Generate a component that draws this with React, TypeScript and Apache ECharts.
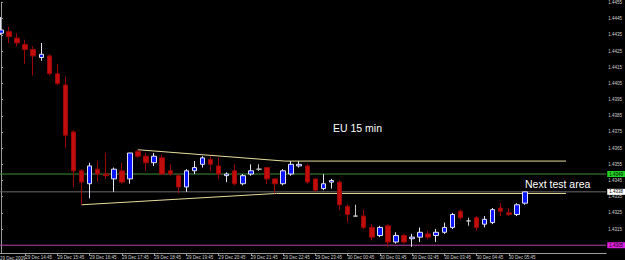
import React, { useEffect, useRef } from "react";
import * as echarts from "echarts";

// EURUSD 15-minute bars, 29 Dec 2009 14:00 onward: [open, close, low, high]
const candles: number[][] = [
  [1.4436, 1.4438, 1.4435, 1.4446],
  [1.4437, 1.4434, 1.443, 1.444],
  [1.4433, 1.443, 1.4428, 1.4436],
  [1.4429, 1.4426, 1.4417, 1.4432],
  [1.4426, 1.4422, 1.441, 1.4428],
  [1.4421, 1.4423, 1.4419, 1.443],
  [1.4422, 1.4411, 1.441, 1.4423],
  [1.4411, 1.4405, 1.4404, 1.4417],
  [1.4404, 1.4373, 1.4365, 1.4409],
  [1.4375, 1.4351, 1.4341, 1.4376],
  [1.4351, 1.4344, 1.433, 1.4352],
  [1.4343, 1.4354, 1.4334, 1.4356],
  [1.4352, 1.4349, 1.4344, 1.4357],
  [1.4349, 1.4348, 1.4346, 1.4362],
  [1.4346, 1.4352, 1.4338, 1.4353],
  [1.4351, 1.4344, 1.4343, 1.4356],
  [1.4346, 1.4362, 1.4343, 1.4362],
  [1.4363, 1.436, 1.4359, 1.4364],
  [1.436, 1.4356, 1.4351, 1.4362],
  [1.4356, 1.436, 1.4354, 1.4362],
  [1.4359, 1.4349, 1.4349, 1.4361],
  [1.4351, 1.4349, 1.4348, 1.4355],
  [1.4348, 1.4341, 1.4337, 1.4349],
  [1.4341, 1.4351, 1.4338, 1.4352],
  [1.4351, 1.4353, 1.4349, 1.4357],
  [1.4355, 1.4359, 1.4353, 1.436],
  [1.4358, 1.4355, 1.4351, 1.436],
  [1.4354, 1.4349, 1.4346, 1.4359],
  [1.4348, 1.4349, 1.4344, 1.435],
  [1.4351, 1.4343, 1.4342, 1.4355],
  [1.4343, 1.4348, 1.4342, 1.4349],
  [1.4349, 1.4351, 1.4348, 1.4355],
  [1.4352, 1.4352, 1.4351, 1.4355],
  [1.4353, 1.4346, 1.4343, 1.4353],
  [1.4346, 1.4343, 1.4337, 1.4346],
  [1.4343, 1.4351, 1.4342, 1.4352],
  [1.4349, 1.4355, 1.4348, 1.4357],
  [1.4354, 1.4355, 1.4353, 1.4357],
  [1.4354, 1.4344, 1.4343, 1.4355],
  [1.4346, 1.4339, 1.4338, 1.4346],
  [1.434, 1.4343, 1.4339, 1.4349],
  [1.4344, 1.4345, 1.434, 1.4346],
  [1.4344, 1.433, 1.4327, 1.4345],
  [1.4329, 1.4324, 1.4319, 1.433],
  [1.4323, 1.4323, 1.4323, 1.433],
  [1.4323, 1.4316, 1.4315, 1.4327],
  [1.4316, 1.431, 1.4308, 1.4318],
  [1.4311, 1.4316, 1.431, 1.4317],
  [1.4317, 1.4307, 1.4304, 1.4318],
  [1.4307, 1.4311, 1.4306, 1.4313],
  [1.4311, 1.4307, 1.4306, 1.4312],
  [1.4309, 1.431, 1.4304, 1.4312],
  [1.431, 1.4313, 1.4307, 1.4316],
  [1.4312, 1.431, 1.4309, 1.4314],
  [1.4311, 1.4313, 1.4307, 1.4315],
  [1.4313, 1.4316, 1.4312, 1.4319],
  [1.4316, 1.4324, 1.4315, 1.4325],
  [1.4326, 1.4322, 1.4321, 1.4327],
  [1.432, 1.432, 1.4317, 1.4322],
  [1.4322, 1.4316, 1.4314, 1.4323],
  [1.4318, 1.4321, 1.4316, 1.4323],
  [1.4319, 1.4327, 1.4318, 1.4328],
  [1.4328, 1.4326, 1.4323, 1.4331],
  [1.4325, 1.4324, 1.4323, 1.4328],
  [1.4324, 1.433, 1.4323, 1.4331],
  [1.4331, 1.4338, 1.433, 1.4338],
];

const firstDateLabel = "29 Dec 2009";
const timeLabels = [
  "29 Dec 14:45", "29 Dec 15:45", "29 Dec 16:45", "29 Dec 17:45",
  "29 Dec 18:45", "29 Dec 19:45", "29 Dec 20:45", "29 Dec 21:45",
  "29 Dec 22:45", "29 Dec 23:45", "30 Dec 00:45", "30 Dec 01:45",
  "30 Dec 02:45", "30 Dec 03:45", "30 Dec 04:45", "30 Dec 05:45",
];
const firstLabelBar = 3;
const barsPerLabel = 4;
const labelBars = timeLabels.map((_, i) => firstLabelBar + i * barsPerLabel);

const priceTicks = [
  1.4455, 1.4445, 1.4435, 1.4425, 1.4415, 1.4405, 1.4395, 1.4385,
  1.4375, 1.4365, 1.4355, 1.4345, 1.4335, 1.4325, 1.4315,
];

const greenLevel = 1.4349;
const bidPrice = 1.4338;
const magentaLevel = 1.4305;

// trend lines: [bar index, price]
const upperTrend = [[17, 1.4364], [35.2, 1.4357], [70.1, 1.4357]];
const lowerTrend = [[10, 1.433], [34.2, 1.4337], [70.1, 1.4337]];

const titleText = "EU 15 min";
const noteText = "Next test area";

const FONT = "'Liberation Sans', Arial, sans-serif";
const X_MIN = -0.124;
const X_MAX = 75.09;

export default function App() {
  const ref = useRef<HTMLDivElement>(null);

  useEffect(() => {
    document.body.style.margin = "0";
    const chart = echarts.init(ref.current!, null, { renderer: "svg" });

    const levelSeries = (value: number, line: string, box: string, text: string) => ({
      type: "line",
      data: [[X_MIN, value], [X_MAX, value]],
      symbol: "none",
      silent: true,
      clip: false,
      z: 1,
      lineStyle: { color: line, width: 1 },
      endLabel: {
        show: true,
        distance: 1,
        formatter: () => value.toFixed(4),
        backgroundColor: box,
        color: text,
        fontSize: 4.5,
        fontFamily: FONT,
        padding: [1, 2, 0, 2],
      },
    });

    const option: any = {
      animation: false,
      backgroundColor: "#000000",
      grid: { left: 0, right: 18, top: 0, bottom: 7 },
      xAxis: {
        type: "value",
        min: X_MIN,
        max: X_MAX,
        axisLine: { show: true, onZero: false, lineStyle: { color: "#9a9a9a", width: 1 } },
        axisTick: { show: true, length: 3, customValues: labelBars, lineStyle: { color: "#9a9a9a" } },
        axisLabel: {
          customValues: labelBars,
          formatter: (v: number) => timeLabels[Math.round((v - firstLabelBar) / barsPerLabel)] ?? "",
          align: "left",
          color: "#cfcfcf",
          fontSize: 4.5,
          fontFamily: FONT,
          margin: 2,
        },
        splitLine: { show: false },
      },
      yAxis: {
        type: "value",
        position: "right",
        min: 1.43002,
        max: 1.44552,
        axisLine: { show: true, lineStyle: { color: "#9a9a9a", width: 1 } },
        axisTick: { show: true, length: 2, customValues: priceTicks, lineStyle: { color: "#9a9a9a" } },
        axisLabel: {
          customValues: priceTicks,
          formatter: (v: number) => v.toFixed(4),
          color: "#cfcfcf",
          fontSize: 4.5,
          fontFamily: FONT,
          margin: 2,
        },
        splitLine: { show: false },
      },
      series: [
        levelSeries(greenLevel, "#3b8f3b", "#22d422", "#000000"),
        levelSeries(bidPrice, "#6a6a6a", "#ffffff", "#000000"),
        levelSeries(magentaLevel, "#b244b2", "#e020e0", "#000000"),
        {
          type: "line",
          data: upperTrend,
          symbol: "none",
          silent: true,
          lineStyle: { color: "#e6dd9c", width: 1 },
          z: 2,
        },
        {
          type: "line",
          data: lowerTrend,
          symbol: "none",
          silent: true,
          lineStyle: { color: "#e6dd9c", width: 1 },
          z: 2,
        },
        {
          type: "candlestick",
          data: candles.map((c, i) => [i, c[0], c[1], c[2], c[3]]),
          encode: { x: 0, y: [1, 2, 3, 4] },
          barWidth: 5,
          z: 3,
          itemStyle: {
            color: "#0a16ff",
            color0: "#c20d0d",
            borderColor: "#e2e2f0",
            borderColor0: "#9c0606",
            borderColorDoji: "#c8c8c8",
            borderWidth: 1,
          },
        },
      ],
      graphic: [
        {
          type: "text",
          x: 0,
          y: 258,
          silent: true,
          style: { text: firstDateLabel, fill: "#cfcfcf", fontSize: 4.5, fontFamily: FONT, verticalAlign: "middle" },
        },
        {
          type: "text",
          x: 333,
          y: 128,
          silent: true,
          style: { text: titleText, fill: "#ffffff", fontSize: 10.5, fontFamily: FONT, verticalAlign: "middle" },
        },
        {
          type: "text",
          x: 525,
          y: 184,
          silent: true,
          style: { text: noteText, fill: "#ffffff", fontSize: 10.5, fontFamily: FONT, verticalAlign: "middle" },
        },
      ],
    };

    chart.setOption(option);
    return () => chart.dispose();
  }, []);

  return (
    <div
      ref={ref}
      style={{ position: "absolute", left: 0, top: 0, width: 625, height: 260, background: "#000" }}
    />
  );
}
